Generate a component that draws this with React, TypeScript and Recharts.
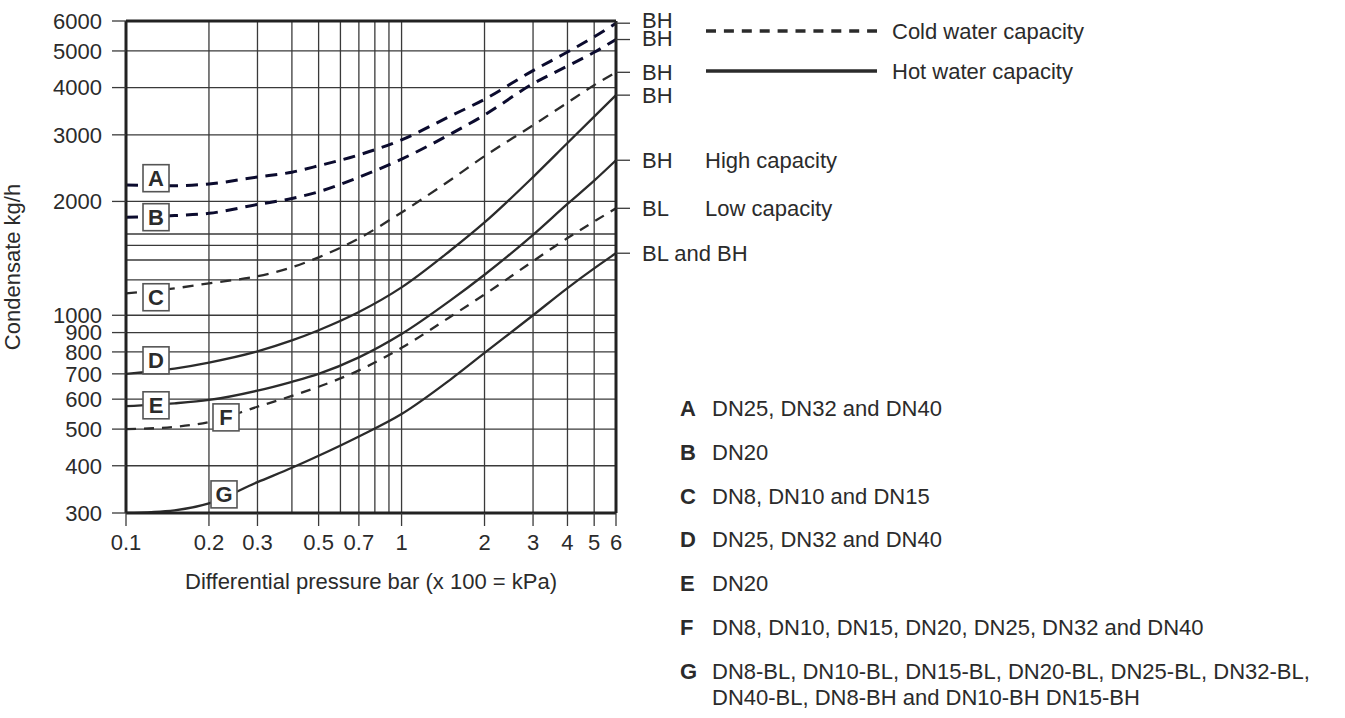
import React from "react";
import {
  CartesianGrid,
  ComposedChart,
  Line,
  ReferenceDot,
  ReferenceLine,
  XAxis,
  YAxis,
} from "recharts";

// differential pressure, bar (x 100 = kPa)
const pressure = [0.1, 0.15, 0.2, 0.3, 0.4, 0.5, 0.7, 1, 1.5, 2, 3, 4, 5, 6];

// condensate kg/h at the pressures above
const curveA = [2210, 2200, 2225, 2320, 2390, 2485, 2655, 2910, 3360, 3725, 4436, 4966, 5450, 5920];
const curveB = [1815, 1835, 1860, 1963, 2036, 2121, 2317, 2588, 3010, 3386, 4096, 4560, 4960, 5360];
const curveC = [1143, 1178, 1215, 1268, 1339, 1423, 1597, 1870, 2276, 2635, 3180, 3650, 4060, 4390];
const curveD = [700, 723, 750, 803, 858, 913, 1020, 1185, 1481, 1760, 2320, 2854, 3351, 3820];
const curveE = [575, 585, 597, 632, 667, 700, 774, 892, 1093, 1280, 1632, 1970, 2270, 2570];
const curveF = [500, 507, 522, 573, 612, 647, 715, 820, 990, 1135, 1390, 1600, 1770, 1918];
const curveG = [300, 305, 318, 362, 395, 425, 478, 548, 675, 795, 1000, 1180, 1330, 1459];

const xTicks = [0.1, 0.2, 0.3, 0.5, 0.7, 1, 2, 3, 4, 5, 6];
const xGrid = [0.2, 0.3, 0.4, 0.5, 0.6, 0.7, 0.8, 0.9, 1, 2, 3, 4, 5];
const yTicks = [300, 400, 500, 600, 700, 800, 900, 1000, 2000, 3000, 4000, 5000, 6000];
const yGrid = [400, 500, 600, 700, 800, 900, 1000, 1240, 1400, 1530, 1640, 2000, 3000, 4000, 5000];

// labels at the right-hand end of each curve
const endLabels = ["BH", "BH", "BH", "BH", "BH", "BL", "BL and BH"];
const endNotes = ["", "", "", "", "High capacity", "Low capacity", ""];

// letter boxes on the curves
const boxLetters = ["A", "B", "C", "D", "E", "F", "G"];
const boxX = [0.1285, 0.1285, 0.1285, 0.1285, 0.1285, 0.2306, 0.2268];
const boxY = [2304, 1817, 1116, 760, 578, 537, 336];

const legendNames = ["Cold water capacity", "Hot water capacity"];

const listText = [
  ["DN25, DN32 and DN40"],
  ["DN20"],
  ["DN8, DN10 and DN15"],
  ["DN25, DN32 and DN40"],
  ["DN20"],
  ["DN8, DN10, DN15, DN20, DN25, DN32 and DN40"],
  [
    "DN8-BL, DN10-BL, DN15-BL, DN20-BL, DN25-BL, DN32-BL,",
    "DN40-BL, DN8-BH and DN10-BH DN15-BH",
  ],
];

const rows = pressure.map((x, i) => ({
  x,
  A: curveA[i],
  B: curveB[i],
  C: curveC[i],
  D: curveD[i],
  E: curveE[i],
  F: curveF[i],
  G: curveG[i],
}));

const endValues = [curveA, curveB, curveC, curveD, curveE, curveF, curveG].map(
  (c) => c[c.length - 1]
);

const FONT = '"Liberation Sans", Arial, Helvetica, sans-serif';
const INK = "#2b2b2b";
const GRID = "#3a3a3a";
const NAVY = "#0b0b2e";
const FS = 22;

function EndTick(props: any) {
  const { x, y, payload } = props;
  const i = endValues.indexOf(payload.value);
  if (i < 0) return null;
  // the two top labels sit close together; lift the first a little
  const ty = i === 0 ? y - 3 : i === 1 ? y - 1 : y;
  return (
    <g>
      <text x={x} y={ty} dy="0.36em" fontSize={FS} fill={INK} fontFamily={FONT}>
        {endLabels[i]}
      </text>
      {endNotes[i] && (
        <text x={x + 63} y={ty} dy="0.36em" fontSize={FS} fill={INK} fontFamily={FONT}>
          {endNotes[i]}
        </text>
      )}
    </g>
  );
}

function LetterBox(letter: string) {
  return (props: any) => {
    const { cx, cy } = props;
    return (
      <g>
        <rect
          x={cx - 13}
          y={cy - 13.5}
          width={26}
          height={27}
          fill="#fff"
          stroke="#555"
          strokeWidth={1.6}
        />
        <text
          x={cx}
          y={cy}
          dy="0.36em"
          textAnchor="middle"
          fontSize={FS}
          fontWeight="bold"
          fill={INK}
          fontFamily={FONT}
        >
          {letter}
        </text>
      </g>
    );
  };
}

function TopLegend() {
  return (
    <svg width={440} height={95} style={{ position: "absolute", left: 700, top: 0 }}>
      <line x1={6} x2={177} y1={31} y2={31} stroke={INK} strokeWidth={3.3} strokeDasharray="10 7.9" />
      <text x={192} y={31} dy="0.36em" fontSize={FS} fill={INK} fontFamily={FONT}>
        {legendNames[0]}
      </text>
      <line x1={6} x2={177} y1={71} y2={71} stroke={INK} strokeWidth={3.3} />
      <text x={192} y={71} dy="0.36em" fontSize={FS} fill={INK} fontFamily={FONT}>
        {legendNames[1]}
      </text>
    </svg>
  );
}

function SizeList() {
  return (
    <div style={{ position: "absolute", left: 680, top: 396, fontFamily: FONT, fontSize: FS, color: INK }}>
      {boxLetters.map((letter, i) => (
        <div key={letter} style={{ display: "flex", height: 43.8, lineHeight: "26px" }}>
          <div style={{ width: 32, fontWeight: "bold" }}>{letter}</div>
          <div>
            {listText[i].map((t) => (
              <div key={t} style={{ whiteSpace: "nowrap" }}>{t}</div>
            ))}
          </div>
        </div>
      ))}
    </div>
  );
}

export default function App() {
  return (
    <div style={{ position: "absolute", left: 0, top: 0, width: 1345, height: 718, background: "#fff" }}>
      <ComposedChart
        width={1345}
        height={718}
        data={rows}
        margin={{ top: 21, right: 629, bottom: 125, left: 0 }}
      >
        <CartesianGrid
          yAxisId="left"
          horizontalValues={yGrid}
          verticalValues={xGrid}
          stroke={GRID}
          strokeWidth={1.3}
        />
        <XAxis
          dataKey="x"
          type="number"
          scale="log"
          domain={[0.1, 6]}
          allowDataOverflow
          ticks={xTicks}
          interval={0}
          height={80}
          tickSize={13}
          tickMargin={8}
          tick={{ fontSize: FS, fill: INK, fontFamily: FONT }}
          axisLine={{ stroke: "#222", strokeWidth: 3 }}
          tickLine={{ stroke: GRID, strokeWidth: 1.3 }}
          label={{
            value: "Differential pressure bar (x 100 = kPa)",
            position: "insideBottom",
            offset: 4,
            fontSize: FS,
            fill: INK,
            fontFamily: FONT,
          }}
        />
        <YAxis
          yAxisId="left"
          type="number"
          scale="log"
          domain={[300, 6000]}
          allowDataOverflow
          ticks={yTicks}
          interval={0}
          width={126}
          tickSize={14}
          tickMargin={10}
          tick={{ fontSize: FS, fill: INK, fontFamily: FONT }}
          axisLine={{ stroke: "#222", strokeWidth: 3 }}
          tickLine={{ stroke: GRID, strokeWidth: 1.3 }}
          label={{
            value: "Condensate kg/h",
            angle: -90,
            position: "insideLeft",
            offset: 12,
            fontSize: FS,
            fill: INK,
            fontFamily: FONT,
            style: { textAnchor: "middle" },
          }}
        />
        <YAxis
          yAxisId="right"
          orientation="right"
          type="number"
          scale="log"
          domain={[300, 6000]}
          allowDataOverflow
          ticks={endValues}
          interval={0}
          width={100}
          tickSize={14}
          tickMargin={12}
          tick={<EndTick />}
          axisLine={{ stroke: "#222", strokeWidth: 3 }}
          tickLine={{ stroke: GRID, strokeWidth: 1.3 }}
        />
        <ReferenceLine yAxisId="left" y={6000} stroke="#222" strokeWidth={3} ifOverflow="visible" />

        <Line yAxisId="left" dataKey="A" type="monotone" stroke={NAVY} strokeWidth={3} strokeDasharray="12 8" dot={false} isAnimationActive={false} />
        <Line yAxisId="left" dataKey="B" type="monotone" stroke={NAVY} strokeWidth={3} strokeDasharray="12 8" dot={false} isAnimationActive={false} />
        <Line yAxisId="left" dataKey="C" type="monotone" stroke={INK} strokeWidth={2.3} strokeDasharray="11 8" dot={false} isAnimationActive={false} />
        <Line yAxisId="left" dataKey="D" type="monotone" stroke={INK} strokeWidth={2.3} dot={false} isAnimationActive={false} />
        <Line yAxisId="left" dataKey="E" type="monotone" stroke={INK} strokeWidth={2.3} dot={false} isAnimationActive={false} />
        <Line yAxisId="left" dataKey="F" type="monotone" stroke={INK} strokeWidth={2.3} strokeDasharray="10 8" dot={false} isAnimationActive={false} />
        <Line yAxisId="left" dataKey="G" type="monotone" stroke={INK} strokeWidth={2.3} dot={false} isAnimationActive={false} />

        {boxLetters.map((letter, i) => (
          <ReferenceDot
            key={letter}
            yAxisId="left"
            x={boxX[i]}
            y={boxY[i]}
            r={13}
            ifOverflow="visible"
            shape={LetterBox(letter)}
          />
        ))}
      </ComposedChart>
      <TopLegend />
      <SizeList />
    </div>
  );
}
